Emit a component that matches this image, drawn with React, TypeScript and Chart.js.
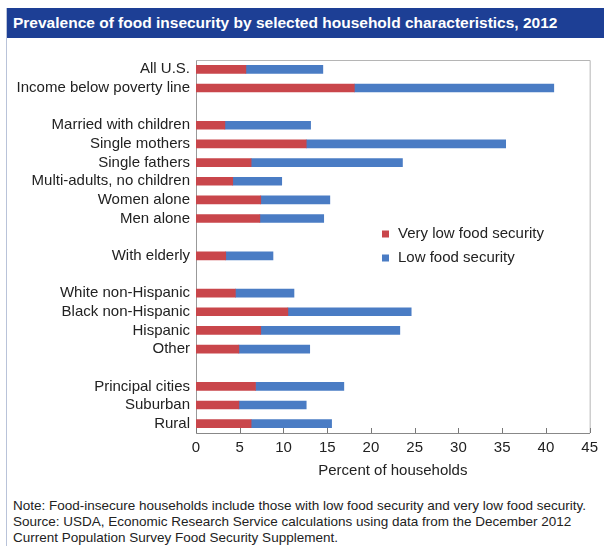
import React, { useEffect, useRef } from "react";
import { Chart, registerables } from "chart.js";
Chart.register(...registerables);

const categories = [
  "All U.S.",
  "Income below poverty line",
  "",
  "Married with children",
  "Single mothers",
  "Single fathers",
  "Multi-adults, no children",
  "Women alone",
  "Men alone",
  "",
  "With elderly",
  "",
  "White non-Hispanic",
  "Black non-Hispanic",
  "Hispanic",
  "Other",
  "",
  "Principal cities",
  "Suburban",
  "Rural",
];
const veryLowFoodSecurity = [5.7, 18.1, null, 3.3, 12.6, 6.3, 4.2, 7.4, 7.3, null, 3.4, null, 4.5, 10.5, 7.4, 4.9, null, 6.8, 4.9, 6.3];
const lowFoodSecurity = [8.8, 22.8, null, 9.8, 22.8, 17.3, 5.6, 7.9, 7.3, null, 5.4, null, 6.7, 14.1, 15.9, 8.1, null, 10.1, 7.7, 9.2];
const seriesNames = ["Very low food security", "Low food security"];
const xMin = 0;
const xMax = 45;
const xStep = 5;

const FONT = "'Liberation Sans', Arial, Helvetica, sans-serif";
const RED = "#c9464b";
const BLUE = "#4a7cc4";

const framePlugin = {
  id: "framePlugin",
  afterDatasetsDraw(chart: any) {
    const { ctx, chartArea } = chart;
    const { left, right, top, bottom } = chartArea;
    ctx.save();
    ctx.strokeStyle = "#b5b5b5";
    ctx.lineWidth = 1;
    ctx.beginPath();
    ctx.moveTo(left, top + 0.5);
    ctx.lineTo(right + 0.5, top + 0.5);
    ctx.lineTo(right + 0.5, bottom);
    ctx.stroke();
    // inside tick marks
    const xs = chart.scales.x;
    ctx.strokeStyle = "#777";
    xs.ticks.forEach((t: any) => {
      const px = Math.round(xs.getPixelForValue(t.value)) + 0.5;
      ctx.beginPath();
      ctx.moveTo(px, bottom);
      ctx.lineTo(px, bottom - 5);
      ctx.stroke();
    });
    // legend
    const lx = left + 186;
    const ly = top + 174;
    chart.data.datasets.forEach((ds: any, i: number) => {
      const y = ly + i * 24;
      ctx.fillStyle = ds.backgroundColor;
      ctx.fillRect(lx, y - 3.5, 7, 7);
      ctx.fillStyle = "#222";
      ctx.font = `15px ${FONT}`;
      ctx.textBaseline = "middle";
      ctx.textAlign = "left";
      ctx.fillText(ds.label, lx + 16, y);
    });
    ctx.restore();
  },
};

export default function App() {
  const ref = useRef<HTMLCanvasElement>(null);
  useEffect(() => {
    document.body.style.margin = "0";
    const chart = new Chart(ref.current!, {
      type: "bar",
      data: {
        labels: categories,
        datasets: [
          { label: seriesNames[0], data: veryLowFoodSecurity, backgroundColor: RED, barThickness: 8 },
          { label: seriesNames[1], data: lowFoodSecurity, backgroundColor: BLUE, barThickness: 8 },
        ],
      },
      options: {
        indexAxis: "y",
        animation: false,
        responsive: false,
        maintainAspectRatio: false,
        layout: { padding: { top: 16, right: 10, left: 0, bottom: 0 } },
        plugins: { legend: { display: false }, tooltip: { enabled: false } },
        scales: {
          x: {
            stacked: true,
            min: xMin,
            max: xMax,
            ticks: { stepSize: xStep, color: "#222", font: { size: 15, family: FONT }, padding: 6 },
            grid: { display: false, drawTicks: false },
            border: { display: true, color: "#888" },
            title: {
              display: true,
              text: "Percent of households",
              color: "#222",
              font: { size: 15, family: FONT },
              padding: { top: 2, bottom: 4 },
            },
            afterFit: (s: any) => {
              s.height = 51;
            },
          },
          y: {
            stacked: true,
            ticks: { autoSkip: false, color: "#222", font: { size: 15, family: FONT }, padding: 6 },
            grid: { display: false, drawTicks: false },
            border: { display: true, color: "#999" },
            afterFit: (s: any) => {
              s.width = 196;
            },
          },
        },
      },
      plugins: [framePlugin],
    });
    return () => chart.destroy();
  }, []);

  return (
    <div style={{ position: "relative", width: 604, height: 546, background: "#fff", fontFamily: FONT, overflow: "hidden" }}>
      <div style={{ position: "absolute", left: 6, top: 8, width: 1, height: 538, background: "#b9c3d9" }} />
      <div
        style={{
          position: "absolute",
          left: 7,
          top: 8,
          width: 597,
          height: 30,
          background: "#1d3f95",
          color: "#fff",
          fontWeight: "bold",
          fontSize: 15.5,
          lineHeight: "30px",
          paddingLeft: 6,
          boxSizing: "border-box",
          whiteSpace: "nowrap",
        }}
      >
        Prevalence of food insecurity by selected household characteristics, 2012
      </div>
      <canvas ref={ref} width={604} height={440} style={{ position: "absolute", left: 0, top: 44, width: 604, height: 440 }} />
      <div style={{ position: "absolute", left: 13, top: 498, fontSize: 13.5, lineHeight: "16px", color: "#222", whiteSpace: "nowrap" }}>
        Note: Food-insecure households include those with low food security and very low food security.
        <br />
        Source: USDA, Economic Research Service calculations using data from the December 2012
        <br />
        Current Population Survey Food Security Supplement.
      </div>
    </div>
  );
}
